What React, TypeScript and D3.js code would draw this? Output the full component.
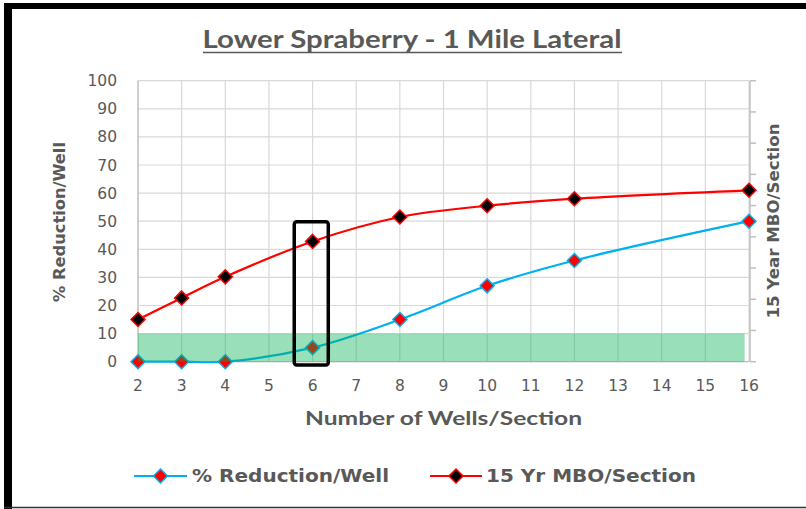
import React from "react";
import * as d3 from "d3";

const W = 806;
const H = 509;

const title = "Lower Spraberry - 1 Mile Lateral";
const xTitle = "Number of Wells/Section";
const yTitle = "% Reduction/Well";
const y2Title = "15 Year  MBO/Section";

const xTicks = [2, 3, 4, 5, 6, 7, 8, 9, 10, 11, 12, 13, 14, 15, 16];
const yTicks = [0, 10, 20, 30, 40, 50, 60, 70, 80, 90, 100];
const y2Ticks = [0, 1, 2, 3, 4, 5, 6, 7, 8, 9];

const wells = [2, 3, 4, 6, 8, 10, 12, 16];
const reductionPerWell = [0, 0, 0, 5, 15, 27, 36, 50];
const mboPerSection = [15, 22.7, 30.2, 42.8, 51.5, 55.5, 58, 61];

const seriesNames = ["% Reduction/Well", "15 Yr MBO/Section"];

// shaded band (x from..to, y from..to) and highlight box in data units
const bandX = [2, 15.9];
const bandY = [0, 10];
const boxX = [5.58, 6.36];
const boxY = [-1.2, 49.8];

const GRAY = "#595959";
const FONT = "Lato, 'DejaVu Sans', sans-serif";
const NUMFONT = "'DejaVu Sans', Verdana, sans-serif";

export default function App() {
  const left = 138, right = 749, top = 80.7, bottom = 361.7;
  const x = d3.scaleLinear().domain([2, 16]).range([left, right]);
  const y = d3.scaleLinear().domain([0, 100]).range([bottom, top]);
  const y2 = d3.scaleLinear().domain([0, 9]).range([bottom, top]);

  const line = d3
    .line<[number, number]>()
    .x((d) => x(d[0]))
    .y((d) => y(d[1]))
    .curve(d3.curveCatmullRom.alpha(0.5));

  const blueData: [number, number][] = wells.map((w, i) => [w, reductionPerWell[i]]);
  const redData: [number, number][] = wells.map((w, i) => [w, mboPerSection[i]]);

  const diamond = (cx: number, cy: number, r: number) =>
    `M${cx},${cy - r}L${cx + r},${cy}L${cx},${cy + r}L${cx - r},${cy}Z`;

  const series = [
    { name: seriesNames[0], data: blueData, stroke: "#00B0F0", fill: "#FF0000" },
    { name: seriesNames[1], data: redData, stroke: "#FF0000", fill: "#000000" },
  ];

  const legend = [
    { x0: 134, x1: 187, tx: 192, tw: 197 },
    { x0: 430, x1: 482, tx: 486, tw: 210 },
  ];

  return (
    <svg
      width={W}
      height={H}
      style={{ position: "absolute", left: 0, top: 0, background: "#fff" }}
    >
      <rect x={0} y={0} width={W} height={H} fill="#fff" />
      {/* frame */}
      <rect x={4} y={3} width={W - 4} height={6} fill="#000" />
      <rect x={4} y={3} width={8} height={H - 3} fill="#000" />
      <line x1={4} x2={W} y1={507.5} y2={507.5} stroke="#333" strokeWidth={1.5} />

      {/* title */}
      <text
        x={412}
        y={48}
        textAnchor="middle"
        fontFamily={FONT}
        fontWeight={700}
        fontSize={25}
        fill={GRAY}
        textLength={419}
        lengthAdjust="spacingAndGlyphs"
      >
        {title}
      </text>
      <line x1={203} x2={622} y1={52.5} y2={52.5} stroke={GRAY} strokeWidth={1.5} />

      {/* grid */}
      {yTicks.map((t) => (
        <line key={"gy" + t} x1={left} x2={right} y1={y(t)} y2={y(t)} stroke="#D9D9D9" strokeWidth={1.2} />
      ))}
      {xTicks.map((t) => (
        <line key={"gx" + t} x1={x(t)} x2={x(t)} y1={top} y2={bottom} stroke="#D9D9D9" strokeWidth={1.2} />
      ))}
      {/* axes */}
      <line x1={left} x2={left} y1={top} y2={bottom} stroke="#BFBFBF" strokeWidth={1.2} />
      <line x1={left} x2={right} y1={bottom} y2={bottom} stroke="#BFBFBF" strokeWidth={1.2} />
      <line x1={right + 1} x2={right + 1} y1={top} y2={bottom} stroke="#BFBFBF" strokeWidth={1.5} />
      {y2Ticks.map((t) => (
        <line key={"t2" + t} x1={right + 1} x2={right + 7} y1={y2(t)} y2={y2(t)} stroke="#BFBFBF" strokeWidth={1.5} />
      ))}

      {/* tick labels */}
      {yTicks.map((t) => (
        <text key={"ly" + t} x={117} y={y(t)} dy="0.36em" textAnchor="end" fontFamily={NUMFONT} fontSize={15.5} fill={GRAY}>
          {t}
        </text>
      ))}
      {xTicks.map((t) => (
        <text key={"lx" + t} x={x(t)} y={391} textAnchor="middle" fontFamily={NUMFONT} fontSize={15.5} fill={GRAY}>
          {t}
        </text>
      ))}

      {/* axis titles */}
      <text
        x={443.5}
        y={425}
        textAnchor="middle"
        fontFamily={FONT}
        fontWeight={700}
        fontSize={19}
        fill={GRAY}
        textLength={277}
        lengthAdjust="spacingAndGlyphs"
      >
        {xTitle}
      </text>
      <text
        transform={`translate(64.5,222) rotate(-90)`}
        textAnchor="middle"
        fontFamily={NUMFONT}
        fontWeight={700}
        fontSize={16}
        fill={GRAY}
        textLength={160}
        lengthAdjust="spacingAndGlyphs"
      >
        {yTitle}
      </text>
      <text
        transform={`translate(778.5,221) rotate(-90)`}
        textAnchor="middle"
        fontFamily={NUMFONT}
        fontWeight={700}
        fontSize={16}
        fill={GRAY}
        textLength={195}
        lengthAdjust="spacingAndGlyphs"
      >
        {y2Title}
      </text>

      {/* series */}
      {series.map((s) => (
        <g key={s.name}>
          <path d={line(s.data) || ""} fill="none" stroke={s.stroke} strokeWidth={2.2} />
          {s.data.map((d, i) => (
            <path key={i} d={diamond(x(d[0]), y(d[1]), 7)} fill={s.fill} stroke={s.stroke} strokeWidth={1.5} />
          ))}
        </g>
      ))}

      {/* shaded band */}
      <rect
        x={x(bandX[0])}
        y={y(bandY[1])}
        width={x(bandX[1]) - x(bandX[0])}
        height={y(bandY[0]) - y(bandY[1])}
        fill="#00B050"
        opacity={0.4}
      />

      {/* highlight box */}
      <rect
        x={x(boxX[0])}
        y={y(boxY[1])}
        width={x(boxX[1]) - x(boxX[0])}
        height={y(boxY[0]) - y(boxY[1])}
        rx={2.5}
        fill="none"
        stroke="#000"
        strokeWidth={3.5}
      />

      {/* legend */}
      {series.map((s, i) => {
        const L = legend[i];
        const cy = 476;
        return (
          <g key={"lg" + i}>
            <line x1={L.x0} x2={L.x1} y1={cy} y2={cy} stroke={s.stroke} strokeWidth={2.2} />
            <path d={diamond((L.x0 + L.x1) / 2, cy, 7)} fill={s.fill} stroke={s.stroke} strokeWidth={1.5} />
            <text
              x={L.tx}
              y={cy}
              dy="0.36em"
              fontFamily={NUMFONT}
              fontWeight={700}
              fontSize={18}
              fill={GRAY}
              textLength={L.tw}
              lengthAdjust="spacingAndGlyphs"
            >
              {s.name}
            </text>
          </g>
        );
      })}
    </svg>
  );
}
